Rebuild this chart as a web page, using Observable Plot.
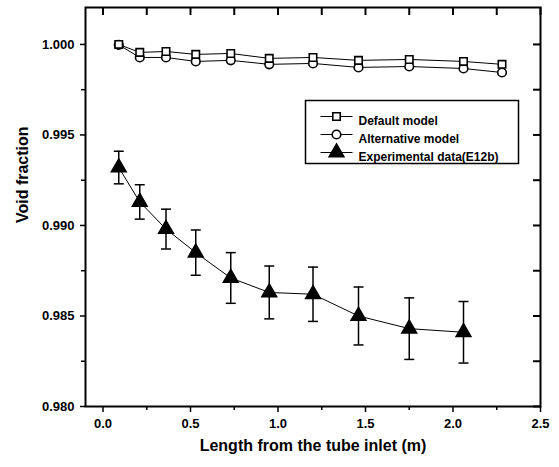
<!DOCTYPE html>
<html><head><meta charset="utf-8">
<script src="https://cdn.jsdelivr.net/npm/d3@7"></script>
<script src="https://cdn.jsdelivr.net/npm/@observablehq/plot@0.6"></script>
<style>body{margin:0;background:#fff}</style>
</head><body><div id="chart"></div>
<script>
// ---- data ----
const modelX = [0.09, 0.21, 0.36, 0.53, 0.73, 0.95, 1.20, 1.46, 1.75, 2.06, 2.28];
const defaultModel = [1.0000, 0.99956, 0.99961, 0.99945, 0.99950, 0.99923, 0.99928, 0.99912, 0.99917, 0.99906, 0.99890];
const alternativeModel = [0.99998, 0.99928, 0.99928, 0.99906, 0.99912, 0.99890, 0.99895, 0.99873, 0.99878, 0.99867, 0.99845];
const expX = [0.09, 0.21, 0.36, 0.53, 0.73, 0.95, 1.20, 1.46, 1.75, 2.06];
const expY = [0.9932, 0.9913, 0.9898, 0.9885, 0.9871, 0.9863, 0.9862, 0.9850, 0.9843, 0.9841];
const expErr = [0.0009, 0.00095, 0.0011, 0.00125, 0.0014, 0.00146, 0.0015, 0.0016, 0.0017, 0.0017];
const xTicks = [0, 0.5, 1.0, 1.5, 2.0, 2.5];
const xMinor = [0.25, 0.75, 1.25, 1.75, 2.25];
const yTicks = [0.980, 0.985, 0.990, 0.995, 1.000];
const yMinor = [0.9825, 0.9875, 0.9925, 0.9975];
const xDomain = [-0.1, 2.5];
const yDomain = [0.980, 1.00204];
const legendLabels = ["Default model", "Alternative model", "Experimental data(E12b)"];
const xTitle = "Length from the tube inlet (m)";
const yTitle = "Void fraction";

// ---- derived tables ----
const models = modelX.map((x, i) => ({x, def: defaultModel[i], alt: alternativeModel[i]}));
const exp = expX.map((x, i) => ({x, y: expY[i], lo: expY[i] - expErr[i], hi: expY[i] + expErr[i]}));

const W = 559, H = 467, mL = 85, mR = 19, mT = 7, mB = 61;
const yPerPx = (yDomain[1] - yDomain[0]) / (H - mT - mB);
const xPerPx = (xDomain[1] - xDomain[0]) / (W - mL - mR);

const font = "'Liberation Sans', Arial, Helvetica, sans-serif";
const hline = w => ({draw(ctx, size) { ctx.moveTo(-w / 2, 0); ctx.lineTo(w / 2, 0); }});
const cap = hline(10);
const legLine = hline(32);

const legX = 251, legTxtX = 273, legY = [109, 127, 145];

const plot = Plot.plot({
  width: W, height: H,
  marginLeft: mL, marginRight: mR, marginTop: mT, marginBottom: mB,
  style: {fontFamily: font, background: "white", color: "black", overflow: "visible"},
  x: {domain: xDomain},
  y: {domain: yDomain},
  marks: [
    // axes
    Plot.axisX(xTicks, {anchor: "bottom", tickSize: 6, tickPadding: 6, tickFormat: d3.format(".1f"), fontSize: 13, fontWeight: "bold", label: null, strokeWidth: 1.5}),
    Plot.axisX(xMinor, {anchor: "bottom", tickSize: 4, tickFormat: () => "", label: null, strokeWidth: 1.5}),
    Plot.axisY(yTicks, {anchor: "left", tickSize: 5, tickPadding: 6, tickFormat: d3.format(".3f"), fontSize: 13, fontWeight: "bold", label: null, strokeWidth: 1.5}),
    Plot.axisY(yMinor, {anchor: "left", tickSize: 4, tickFormat: () => "", label: null, strokeWidth: 1.5}),
    // inward ticks on top and right
    Plot.ruleX([...xTicks, ...xMinor], {x: d => d, y1: yDomain[1], y2: yDomain[1] - 8 * yPerPx, stroke: "black", strokeWidth: 2}),
    Plot.ruleY([...yTicks, ...yMinor], {y: d => d, x1: xDomain[1], x2: xDomain[1] - 7 * xPerPx, stroke: "black", strokeWidth: 2}),
    Plot.frame({strokeWidth: 2}),
    // titles
    Plot.text([xTitle], {frameAnchor: "bottom", dy: 39, fontSize: 16, fontWeight: "bold", lineAnchor: "middle"}),
    Plot.text([yTitle], {frameAnchor: "left", rotate: -90, dx: -63, dy: 16, fontSize: 16, fontWeight: "bold"}),
    // model lines and markers
    Plot.line(models, {x: "x", y: "def", stroke: "black", strokeWidth: 1}),
    Plot.line(models, {x: "x", y: "alt", stroke: "black", strokeWidth: 1}),
    Plot.dot(models, {x: "x", y: "alt", symbol: "circle", r: 4.3, fill: "white", stroke: "black", strokeWidth: 1.6}),
    Plot.dot(models, {x: "x", y: "def", symbol: "square", r: 4.2, fill: "white", stroke: "black", strokeWidth: 1.6}),
    // experimental
    Plot.line(exp, {x: "x", y: "y", stroke: "black", strokeWidth: 1}),
    Plot.ruleX(exp, {x: "x", y1: "lo", y2: "hi", stroke: "black", strokeWidth: 1.5}),
    Plot.dot(exp, {x: "x", y: "lo", symbol: cap, r: 5.6, stroke: "black", strokeWidth: 1.5}),
    Plot.dot(exp, {x: "x", y: "hi", symbol: cap, r: 5.6, stroke: "black", strokeWidth: 1.5}),
    Plot.dot(exp, {x: "x", y: "y", symbol: "triangle", r: 5.5, fill: "black", stroke: "black"}),
    // legend
    Plot.frame({insetLeft: 220, insetRight: 22, insetTop: 93, insetBottom: 243, stroke: "black", strokeWidth: 1.5, fill: "white"}),
    ...legendLabels.map((lab, i) => Plot.dot([lab], {frameAnchor: "top-left", dx: legX, dy: legY[i], symbol: legLine, r: 17, stroke: "black", strokeWidth: 1})),
    Plot.dot([legendLabels[0]], {frameAnchor: "top-left", dx: legX, dy: legY[0], symbol: "square", r: 4.2, fill: "white", stroke: "black", strokeWidth: 1.6}),
    Plot.dot([legendLabels[1]], {frameAnchor: "top-left", dx: legX, dy: legY[1], symbol: "circle", r: 4.3, fill: "white", stroke: "black", strokeWidth: 1.6}),
    Plot.dot([legendLabels[2]], {frameAnchor: "top-left", dx: legX, dy: legY[2], symbol: "triangle", r: 5.5, fill: "black", stroke: "black"}),
    ...legendLabels.map((lab, i) => Plot.text([lab], {frameAnchor: "top-left", dx: legTxtX, dy: legY[i], text: d => d, textAnchor: "start", fontSize: 12, fontWeight: "bold"}))
  ]
});
document.getElementById("chart").appendChild(plot);
</script>
</body></html>
